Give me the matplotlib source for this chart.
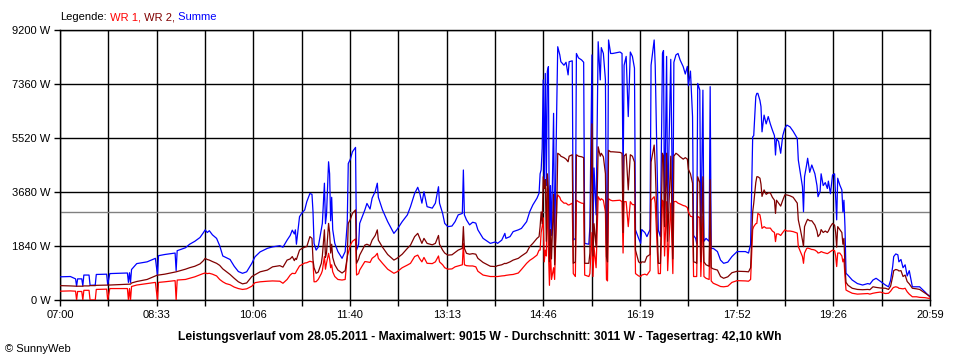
import matplotlib
matplotlib.use('Agg')
import matplotlib.pyplot as plt
import numpy as np

plt.rcParams['font.family'] = ['Liberation Sans', 'DejaVu Sans']

# Minuten nach 07:00
minuten = [
    0, 10, 15, 16, 17, 21, 22, 23, 28, 29, 34, 35, 45, 46, 48, 65, 66, 67, 68, 69,
    74, 84, 92, 94, 95, 101, 111, 112, 113, 121, 125, 130, 135, 138, 140, 142, 144, 147, 151, 154,
    157, 160, 164, 168, 172, 176, 180, 185, 188, 193, 200, 205, 212, 215, 219, 222, 224, 226, 227, 228,
    231, 233, 236, 238, 241, 243, 244, 245, 247, 249, 252, 253, 255, 256, 257, 259, 260, 261, 262, 263,
    265, 268, 272, 275, 277, 278, 280, 282, 285, 286, 288, 289, 294, 296, 299, 301, 304, 306, 307, 311,
    316, 322, 325, 330, 335, 338, 342, 345, 347, 349, 351, 354, 359, 362, 365, 366, 369, 371, 374, 378,
    381, 384, 388, 389, 390, 392, 395, 398, 401, 403, 408, 415, 420, 422, 426, 429, 430, 434, 437, 442,
    445, 450, 453, 456, 460, 462, 463, 464, 465, 466, 467, 468, 469, 470, 471, 472, 473, 474, 476, 477,
    479, 480, 482, 483, 486, 488, 490, 491, 494, 495, 497, 498, 500, 503, 505, 506, 510, 511, 513, 514,
    515, 517, 519, 521, 522, 524, 526, 527, 528, 529, 531, 533, 540, 542, 543, 544, 546, 548, 550, 552,
    554, 555, 558, 560, 561, 564, 566, 569, 570, 573, 574, 577, 579, 581, 582, 583, 585, 586, 589, 591,
    592, 594, 596, 598, 601, 603, 605, 606, 608, 610, 611, 613, 614, 615, 617, 618, 620, 621, 623, 626,
    627, 628, 630, 634, 637, 640, 644, 648, 653, 661, 664, 666, 668, 669, 671, 672, 673, 675, 676, 677,
    679, 681, 683, 685, 687, 689, 690, 691, 693, 695, 697, 699, 701, 704, 707, 711, 712, 714, 716, 717,
    718, 720, 721, 723, 725, 726, 728, 730, 731, 733, 734, 736, 738, 740, 741, 743, 745, 747, 748, 749,
    750, 752, 754, 755, 756, 757, 758, 760, 764, 769, 774, 779, 781, 784, 787, 791, 796, 799, 801, 803,
    804, 806, 808, 809, 811, 813, 815, 817, 819, 822, 826, 829, 834, 837, 839,
]

summe = [
    790, 800, 720, 470, 720, 720, 480, 850, 850, 500, 510, 870, 880, 520, 900, 920, 600, 930, 600, 1040,
    1240, 1300, 1420, 850, 1510, 1550, 1600, 1000, 1680, 1780, 1900, 2000, 2130, 2280, 2390, 2300, 2360, 2220, 2100, 1850,
    1500, 1450, 1380, 1150, 970, 910, 960, 1250, 1470, 1640, 1760, 1810, 1850, 1800, 2040, 2200, 2380, 2250, 2390, 1900,
    2840, 2950, 3070, 3350, 3630, 3600, 3000, 1930, 1700, 1800, 2400, 2610, 3980, 2600, 2900, 4710, 4300, 2700, 3500, 2400,
    1930, 1650, 1420, 1650, 2610, 4650, 4800, 5050, 5200, 1700, 1900, 2610, 3070, 3290, 3100, 3470, 3700, 3980, 3500, 3070,
    2670, 2270, 2400, 2670, 2900, 3180, 3630, 3840, 3630, 3300, 3690, 3180, 3130, 3300, 3860, 3300, 2950, 2610, 2500, 2520,
    2670, 2900, 2950, 4430, 2900, 2730, 2560, 2650, 2620, 2390, 2100, 1930, 1980, 1930, 2040, 2270, 2100, 2160, 2330, 2390,
    2440, 2670, 3010, 3240, 3470, 3640, 4300, 4430, 5170, 7500, 3900, 7720, 3900, 7800, 7950, 1700, 3900, 2200, 6360, 1700,
    6500, 8630, 8350, 8120, 8000, 8100, 7670, 8120, 8150, 2040, 2100, 8400, 8250, 8180, 8100, 1930, 1900, 2500, 8350, 2300,
    4500, 2900, 8800, 7500, 8600, 8400, 7500, 1930, 1950, 8860, 8400, 8400, 8450, 8400, 3980, 8000, 8300, 6250, 8450, 8300,
    7900, 2390, 2100, 1930, 2400, 2300, 2160, 2400, 8000, 8860, 8000, 2380, 2160, 8400, 8500, 2800, 8300, 3000, 8200, 2400,
    8100, 8350, 8400, 8180, 7950, 7700, 7960, 7300, 7800, 6250, 2200, 2100, 1930, 7380, 7150, 2000, 7150, 2000, 2100, 2000,
    7270, 1750, 1760, 1650, 1360, 1250, 1290, 1480, 1650, 1650, 1600, 1900, 5560, 5600, 6930, 7040, 7040, 6800, 6590, 5730,
    6300, 6000, 6250, 6000, 5790, 5600, 4940, 5500, 5400, 5000, 5600, 5850, 5960, 5900, 5750, 5510, 4770, 4320, 3860, 3010,
    4200, 4600, 4830, 4350, 4600, 4500, 4300, 3900, 3520, 3700, 4300, 3900, 4000, 3800, 4050, 3620, 4260, 4300, 3500, 2730,
    4150, 3920, 3750, 3000, 3400, 2500, 910, 840, 680, 560, 510, 560, 540, 680, 740, 640, 510, 450, 670, 1140,
    1480, 1570, 1540, 1300, 1380, 1100, 1200, 820, 1000, 450, 450, 450, 280, 170, 140,
]

wr2 = [
    490, 480, 470, 470, 470, 470, 470, 480, 480, 490, 490, 500, 510, 510, 510, 540, 540, 540, 540, 580,
    630, 700, 820, 850, 850, 880, 950, 960, 970, 1050, 1100, 1150, 1230, 1330, 1420, 1380, 1360, 1310, 1250, 1180,
    1060, 980, 870, 740, 620, 550, 580, 800, 860, 960, 1020, 1130, 1170, 1120, 1360, 1400, 1480, 1340, 1420, 1380,
    1700, 1750, 1800, 1820, 2160, 2100, 1360, 1100, 910, 950, 1250, 1500, 2390, 1450, 1600, 2610, 2300, 1600, 1900, 1450,
    1200, 1020, 920, 1000, 1450, 2610, 2750, 2950, 3070, 1250, 1400, 1530, 1870, 1900, 1850, 2040, 2200, 2390, 2040, 1800,
    1550, 1360, 1420, 1560, 1760, 1870, 2160, 2270, 2100, 1930, 2100, 1930, 1880, 1930, 2200, 1900, 1700, 1600, 1530, 1540,
    1620, 1700, 1760, 2500, 1760, 1590, 1560, 1580, 1560, 1420, 1280, 1150, 1140, 1170, 1200, 1250, 1240, 1300, 1360, 1420,
    1500, 1620, 1820, 1930, 2100, 2160, 2500, 3000, 2600, 4200, 3800, 4100, 2000, 4300, 3700, 1300, 2400, 1400, 3600, 1200,
    3000, 5000, 4950, 4900, 4850, 4800, 4710, 4900, 4950, 1250, 1300, 4950, 4900, 4880, 4850, 1250, 1250, 1600, 6000, 1500,
    2600, 1800, 5220, 4900, 5000, 4880, 4300, 1480, 1300, 5100, 5050, 5050, 5030, 5000, 2300, 4900, 4980, 3750, 4950, 4900,
    4700, 1700, 1300, 1250, 1300, 1290, 1480, 1550, 4700, 5280, 4600, 1250, 1250, 5000, 4900, 2500, 5000, 2000, 4900, 1400,
    4900, 5000, 4950, 4880, 4800, 4850, 4800, 4450, 4300, 3980, 1300, 1280, 1250, 4200, 4000, 1300, 4200, 1300, 1200, 1150,
    4100, 1100, 1060, 1020, 800, 740, 790, 930, 980, 970, 960, 1100, 3000, 3290, 4000, 4200, 4200, 4150, 3950, 3530,
    3750, 3600, 3650, 3650, 3500, 3400, 2950, 3400, 3300, 3200, 3400, 3580, 3580, 3550, 3500, 3300, 2730, 2400, 2040, 1820,
    2500, 2680, 2750, 2700, 2700, 2650, 2550, 2350, 2160, 2250, 2400, 2300, 2350, 2300, 2350, 2500, 2610, 2550, 2300, 1800,
    2500, 2400, 2300, 1900, 2100, 1140, 600, 500, 400, 360, 350, 360, 350, 450, 430, 410, 400, 360, 470, 800,
    1000, 1040, 1020, 990, 1000, 800, 850, 630, 550, 400, 380, 360, 240, 170, 100,
]

wr1 = [
    300, 310, 300, 0, 290, 290, 0, 330, 330, 0, 0, 360, 370, 0, 390, 390, 0, 390, 0, 460,
    510, 560, 600, 0, 600, 620, 660, 0, 680, 700, 740, 790, 860, 900, 920, 900, 910, 880, 820, 700,
    620, 560, 520, 440, 390, 360, 380, 470, 590, 620, 640, 650, 640, 570, 700, 850, 910, 900, 910, 980,
    1160, 1200, 1260, 1270, 1320, 1300, 1300, 620, 625, 700, 900, 1000, 1480, 1050, 1250, 1590, 1400, 1100, 1200, 960,
    800, 700, 680, 700, 1480, 1600, 1870, 2000, 2080, 850, 900, 1020, 1310, 1300, 1280, 1420, 1500, 1590, 1420, 1250,
    1050, 910, 960, 1100, 1190, 1250, 1480, 1530, 1400, 1300, 1450, 1250, 1240, 1300, 1500, 1300, 1200, 1100, 1050, 1060,
    1130, 1160, 1200, 1930, 1200, 1170, 1160, 1160, 1130, 980, 850, 800, 800, 800, 820, 830, 840, 860, 870, 920,
    1040, 1250, 1350, 1420, 1530, 1700, 1700, 2300, 2500, 2800, 1300, 1700, 1500, 3800, 1700, 500, 1700, 700, 1100, 700,
    3400, 3580, 3500, 3400, 3300, 3300, 3240, 3240, 3300, 900, 800, 3400, 3350, 3300, 3290, 850, 800, 900, 2300, 800,
    1800, 1100, 3520, 3400, 3450, 3400, 3000, 700, 650, 3450, 3400, 3380, 3400, 3350, 1600, 3350, 3350, 2500, 3350, 3250,
    3250, 900, 820, 800, 850, 880, 850, 1000, 3400, 3520, 3300, 900, 900, 3400, 3350, 1500, 3350, 1000, 3300, 900,
    3350, 3360, 3300, 3270, 3220, 3200, 3150, 3000, 2850, 2840, 800, 800, 800, 2850, 2800, 800, 2850, 800, 740, 700,
    2800, 650, 570, 510, 460, 450, 470, 600, 660, 650, 640, 700, 2400, 2500, 2600, 2610, 2950, 2900, 2700, 2440,
    2500, 2450, 2450, 2450, 2350, 2300, 1990, 2250, 2250, 2200, 2300, 2390, 2350, 2350, 2330, 2280, 1820, 1650, 1480, 1250,
    1600, 1750, 1770, 1750, 1720, 1720, 1700, 1650, 1600, 1620, 1650, 1620, 1600, 1580, 1600, 1650, 1700, 1680, 1500, 1140,
    1600, 1600, 1500, 1300, 1400, 800, 340, 300, 230, 200, 210, 220, 200, 230, 250, 270, 220, 230, 300, 400,
    430, 450, 430, 400, 390, 380, 400, 280, 200, 110, 110, 90, 80, 60, 50,
]

y_ticks = [0, 1840, 3680, 5520, 7360, 9200]
x_labels = ['07:00', '08:33', '10:06', '11:40', '13:13', '14:46', '16:19', '17:52', '19:26', '20:59']
durchschnitt = 3011
titel = ('Leistungsverlauf vom 28.05.2011 - Maximalwert: 9015 W - '
         'Durchschnitt: 3011 W - Tagesertrag: 42,10 kWh')

fig = plt.figure(figsize=(9.6, 3.6), dpi=100)
ax = fig.add_axes([60 / 960, 60 / 360, 870 / 960, 270 / 360])

ax.plot(minuten, summe, color='#0000ff', lw=0.9, zorder=3)
ax.plot(minuten, wr1, color='#ff0000', lw=0.9, zorder=4)
ax.plot(minuten, wr2, color='#800000', lw=0.9, zorder=5)
ax.axhline(durchschnitt, color='#808080', lw=1.0, zorder=2)

ax.set_xlim(0, 839)
ax.set_ylim(0, 9200)
pos = np.linspace(0, 839, 19)
ax.set_xticks(pos)
labels = []
for i in range(19):
    labels.append(x_labels[i // 2] if i % 2 == 0 else '')
ax.set_xticklabels(labels)
ax.set_yticks(y_ticks)
ax.set_yticklabels([f'{v} W' for v in y_ticks])
ax.tick_params(direction='out', length=4, width=1, labelsize=8, pad=3, colors='black')
ax.grid(True, color='black', lw=1.0)
ax.set_axisbelow(True)
for s in ax.spines.values():
    s.set_color('black')
    s.set_linewidth(1.0)

# Legende oben links
t = fig.text(60 / 960, 1 - 17 / 360, 'Legende:', ha='left', va='center', fontsize=8)
for txt, c in [(' WR 1,', '#ff0000'), (' WR 2,', '#800000'), (' Summe', '#0000ff')]:
    t = ax.annotate(txt, xy=(1, 0), xycoords=t, ha='left', va='bottom',
                    fontsize=8, color=c, annotation_clip=False)

fig.text(480 / 960, 1 - 337 / 360, titel, ha='center', va='center',
         fontsize=8.75, fontweight='bold')
fig.text(5 / 960, 1 - 349 / 360, '© SunnyWeb', ha='left', va='center', fontsize=8)

fig.savefig('out.png', dpi=100)
